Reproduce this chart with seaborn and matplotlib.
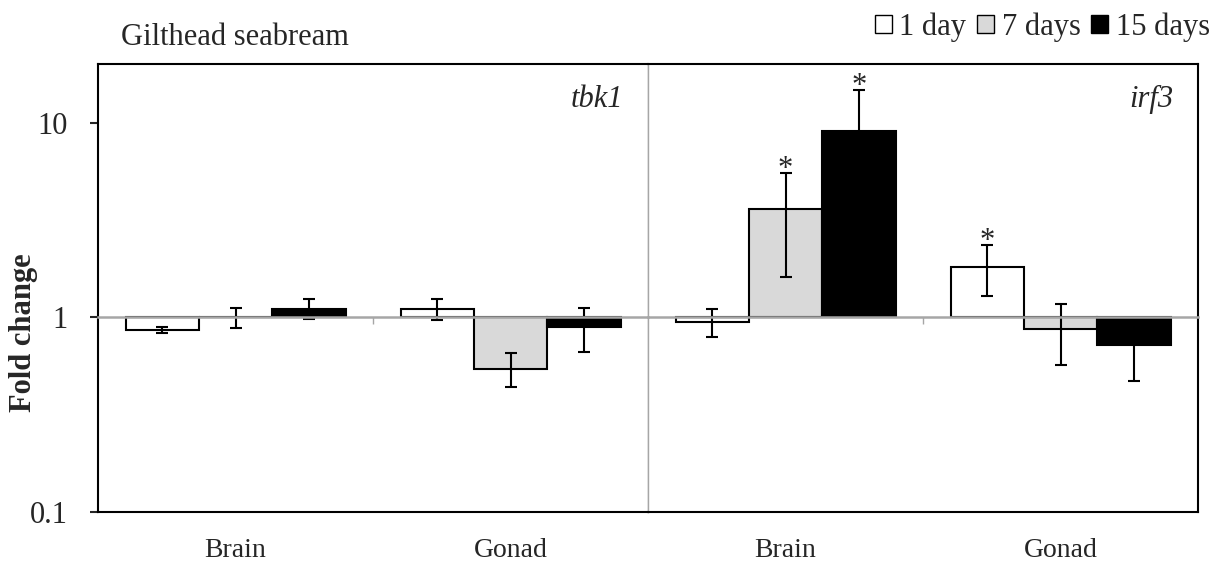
import matplotlib
matplotlib.use("Agg")
import matplotlib.pyplot as plt
import seaborn as sns
import pandas as pd
from matplotlib.patches import Patch
from matplotlib.ticker import NullLocator

# Estilo
sns.set_style("white")
plt.rcParams['font.family'] = ['Liberation Serif', 'DejaVu Serif']
plt.rcParams['font.size'] = 22

# Dados
tissues = ['Brain', 'Gonad']
times = ['1 day', '7 days', '15 days']
genes = ['tbk1', 'irf3']

# ordem: Brain (1, 7, 15 dias), Gonad (1, 7, 15 dias)
tbk1_fc = [0.865, 1.00, 1.108, 1.108, 0.545, 0.888]
tbk1_sd = [0.031, 0.122, 0.13, 0.138, 0.107, 0.222]
tbk1_sig = [False, False, False, False, False, False]

irf3_fc = [0.95, 3.58, 9.01, 1.816, 0.872, 0.724]
irf3_sd = [0.156, 1.96, 5.75, 0.53, 0.30, 0.253]
irf3_sig = [False, True, True, True, False, False]

palette = {'1 day': 'white', '7 days': '#d9d9d9', '15 days': 'black'}
gray = '#a6a6a6'

fig = plt.figure(figsize=(12.22, 5.64), dpi=100)
ax_l = fig.add_axes([98 / 1222, 52 / 564, 550 / 1222, 448 / 564])
ax_r = fig.add_axes([648 / 1222, 52 / 564, 550 / 1222, 448 / 564])

panels = [
    (ax_l, 'tbk1', tbk1_fc, tbk1_sd, tbk1_sig),
    (ax_r, 'irf3', irf3_fc, irf3_sd, irf3_sig),
]

for ax, gene, fc, sd, sig in panels:
    df = pd.DataFrame({
        'Tissue': [t for t in tissues for _ in times],
        'Time': times * len(tissues),
        'FC': fc,
        'SD': sd,
        'Sig': sig,
    })
    # barras partem de 1 (eixo em escala log cruza em 1)
    df['Delta'] = df['FC'] - 1
    sns.barplot(data=df, x='Tissue', y='Delta', hue='Time', order=tissues,
                hue_order=times, palette=palette, edgecolor='black',
                linewidth=1.5, bottom=1, errorbar=None, legend=False,
                saturation=1, ax=ax)

    # centros das barras -> barras de erro
    xs, ys, es, ss = [], [], [], []
    for i, cont in enumerate(list(ax.containers)):
        for j, bar in enumerate(cont):
            row = df[(df['Tissue'] == tissues[j]) & (df['Time'] == times[i])].iloc[0]
            xs.append(bar.get_x() + bar.get_width() / 2)
            ys.append(row['FC'])
            es.append(row['SD'])
            ss.append(row['Sig'])
    ax.errorbar(xs, ys, yerr=es, fmt='none', ecolor='black', elinewidth=1.5,
                capsize=4.5, capthick=1.5, zorder=5)
    for x, y, e, s in zip(xs, ys, es, ss):
        if s:
            ax.annotate('*', (x, y + e), xytext=(0, -3), textcoords='offset points',
                        ha='center', va='baseline', fontsize=22)

    ax.set_yscale('log')
    ax.set_ylim(0.1, 20)
    ax.set_xlim(-0.5, 1.5)
    ax.yaxis.set_minor_locator(NullLocator())
    ax.set_xlabel('')
    ax.set_ylabel('')
    ax.set_xticks([0, 1], tissues)
    ax.tick_params(axis='x', length=0, pad=19, labelsize=20)

    ax.text(0.955, 0.905, gene, transform=ax.transAxes, ha='right',
            va='baseline', style='italic', fontsize=22)

    # linha em 1 com marca entre categorias
    ax2 = ax.twiny()
    ax2.set_xlim(ax.get_xlim())
    for side in ['top', 'left', 'right']:
        ax2.spines[side].set_visible(False)
    ax2.xaxis.set_ticks_position('bottom')
    ax2.spines['bottom'].set_position(('data', 1))
    ax2.spines['bottom'].set_color(gray)
    ax2.spines['bottom'].set_linewidth(1.8)
    ax2.set_xticks([0.5])
    ax2.tick_params(axis='x', which='major', direction='out', length=5,
                    width=1, color=gray, bottom=True, top=False,
                    labelbottom=False, labeltop=False)
    ax2.xaxis.set_minor_locator(NullLocator())

    for side in ['top', 'bottom', 'left', 'right']:
        ax.spines[side].set_color('black')
        ax.spines[side].set_linewidth(1.5)

# eixo y só no painel esquerdo
ax_l.set_yticks([0.1, 1, 10], ['0.1', '1', '10'])
ax_l.tick_params(axis='y', which='major', left=True, direction='out',
                 length=6, width=1.5, pad=16, labelsize=22)
ax_l.spines['right'].set_color(gray)
ax_l.spines['right'].set_linewidth(1)
ax_r.tick_params(axis='y', which='both', left=False, labelleft=False)
ax_r.spines['left'].set_color(gray)
ax_r.spines['left'].set_linewidth(1)

fig.text(24 / 1222, 1 - 333 / 564, 'Fold change', rotation=90, ha='center',
         va='center', fontsize=22, fontweight='bold')
fig.text(121 / 1222, 1 - 45 / 564, 'Gilthead seabream', ha='left',
         va='baseline', fontsize=22)

handles = [Patch(facecolor=palette[t], edgecolor='black', linewidth=1)
           for t in times]
fig.legend(handles, times, loc='upper right', bbox_to_anchor=(1.0, 1.0),
           ncol=3, frameon=False, fontsize=22, handlelength=0.55,
           handleheight=0.55, handletextpad=0.25, columnspacing=0.35,
           borderpad=0.3, borderaxespad=0.1)

fig.savefig('out.png', dpi=100)
